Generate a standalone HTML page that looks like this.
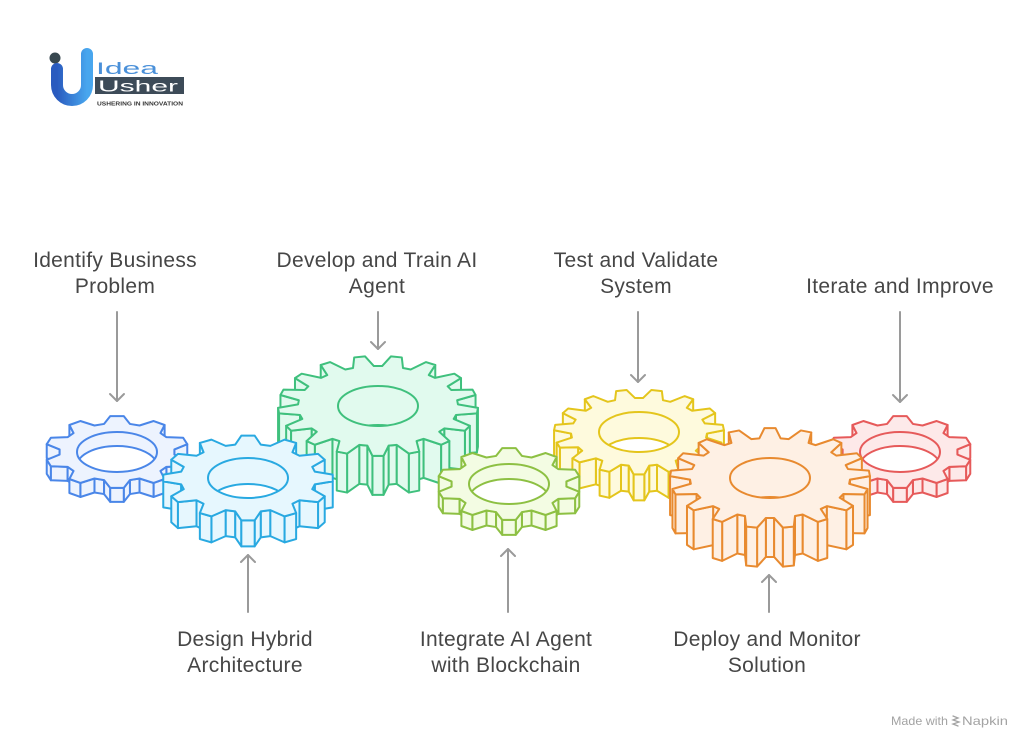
<!DOCTYPE html>
<html>
<head>
<meta charset="utf-8">
<style>
  html, body { margin:0; padding:0; background:#ffffff; }
  body { width:1024px; height:741px; overflow:hidden; }
  svg { display:block; }
  .lbl { font-family:"Liberation Sans", Arial, sans-serif; font-size:21px; fill:#464646; letter-spacing:0.3px; }
</style>
</head>
<body>
<svg id="root" width="1024" height="741" viewBox="0 0 1024 741" xmlns="http://www.w3.org/2000/svg">
  <defs>
    <linearGradient id="ug" x1="0" y1="0" x2="1" y2="0">
      <stop offset="0" stop-color="#2a5bbf"/>
      <stop offset="1" stop-color="#48a6ee"/>
    </linearGradient>
  </defs>
  <rect width="1024" height="741" fill="#ffffff"/>

  <!-- Logo -->
  <g>
    <circle cx="55" cy="58" r="5.5" fill="#37474f"/>
    <path d="M57,69 V85 A15,15 0 0 0 87,85 V54" fill="none" stroke="url(#ug)" stroke-width="12" stroke-linecap="round"/>
    <text x="96" y="74" font-family="Liberation Sans, Arial, sans-serif" font-size="17" fill="#4a90d9" textLength="62" lengthAdjust="spacingAndGlyphs">Idea</text>
    <rect x="95" y="77" width="89" height="17" fill="#3d4b58"/>
    <text x="98" y="91.5" font-family="Liberation Sans, Arial, sans-serif" font-size="16" fill="#ffffff" textLength="80" lengthAdjust="spacingAndGlyphs">Usher</text>
    <text x="97" y="105.5" font-family="Liberation Sans, Arial, sans-serif" font-size="5.6" font-weight="bold" fill="#333333" textLength="86" lengthAdjust="spacingAndGlyphs">USHERING IN INNOVATION</text>
  </g>

  <!-- Gears -->
  <g id="gears"></g>

  <!-- Arrows -->
  <g fill="none" stroke="#9a9a9a" stroke-width="2" stroke-linecap="round" stroke-linejoin="round">
    <line x1="117" y1="312" x2="117" y2="401"/><polyline points="110,394 117,401 124,394"/>
    <line x1="378" y1="312" x2="378" y2="349"/><polyline points="371,342 378,349 385,342"/>
    <line x1="638" y1="312" x2="638" y2="382"/><polyline points="631,375 638,382 645,375"/>
    <line x1="900" y1="312" x2="900" y2="402"/><polyline points="893,395 900,402 907,395"/>
    <line x1="248" y1="612" x2="248" y2="555"/><polyline points="241,562 248,555 255,562"/>
    <line x1="508" y1="612" x2="508" y2="549"/><polyline points="501,556 508,549 515,556"/>
    <line x1="769" y1="612" x2="769" y2="575"/><polyline points="762,582 769,575 776,582"/>
  </g>

  <!-- Labels -->
  <g class="lbl" text-anchor="middle">
    <text class="lbl" x="115" y="267">Identify Business</text>
    <text class="lbl" x="115" y="293">Problem</text>
    <text class="lbl" x="377" y="267">Develop and Train AI</text>
    <text class="lbl" x="377" y="293">Agent</text>
    <text class="lbl" x="636" y="267">Test and Validate</text>
    <text class="lbl" x="636" y="293">System</text>
    <text class="lbl" x="900" y="293">Iterate and Improve</text>
    <text class="lbl" x="245" y="646">Design Hybrid</text>
    <text class="lbl" x="245" y="672">Architecture</text>
    <text class="lbl" x="506" y="646">Integrate AI Agent</text>
    <text class="lbl" x="506" y="672">with Blockchain</text>
    <text class="lbl" x="767" y="646">Deploy and Monitor</text>
    <text class="lbl" x="767" y="672">Solution</text>
  </g>

  <!-- Made with Napkin -->
  <g font-family="Liberation Sans, Arial, sans-serif" font-size="12" fill="#a3a3a3">
    <text x="891" y="725" textLength="57" lengthAdjust="spacingAndGlyphs">Made with</text>
    <g fill="none" stroke="#a3a3a3" stroke-width="1.3" stroke-linecap="round">
      <path d="M953,716 L958,718 L953,720 L959,722 L953,724 L958,726"/>
    </g>
    <text x="962" y="725" textLength="46" lengthAdjust="spacingAndGlyphs">Napkin</text>
  </g>
</svg>

<script>
(function(){
  var gears = [
    // cx, cy, R, N, thick, stroke, fill, toothAtTop
    [378,406,100,17,39,'#3fc07d','#e1faee',false],
    [639,432,85,15,26,'#e4c51c','#fefadd',false],
    [117,452,72,10,14,'#4a86e8','#edf3fe',true],
    [900,452,72,10,14,'#e65a5a','#fde9e9',true],
    [509,484,72,10,15,'#8dc043','#f3fce3',true],
    [248,478,85,12,26,'#29a9e1','#e6f7fe',true],
    [770,478,100,17,39,'#e88a2f','#fef0e4',true]
  ];
  var out = '';
  var clips = '';
  gears.forEach(function(g, gi){
    var cx=g[0], cy=g[1], R=g[2], N=g[3], t=g[4], st=g[5], fl=g[6], top=g[7];
    var p = 2*Math.PI/N;
    var Rr = R*0.8;
    var ph = top ? -Math.PI/2 : -Math.PI/2 + p/2;
    function P(r,a){ return [cx + r*Math.cos(a), cy + 0.5*r*Math.sin(a)]; }
    var pts = [];
    for (var k=0;k<N;k++){
      var a = ph + k*p;
      pts.push(P(Rr, a-0.36*p), P(R, a-0.15*p), P(R, a+0.15*p), P(Rr, a+0.36*p));
    }
    var n = pts.length;
    var faces = [];
    for (var i=0;i<n;i++){
      var A = pts[i], B = pts[(i+1)%n];
      if (B[0] < A[0] - 0.01){
        faces.push({d:(A[1]+B[1])/2, path:'M'+A[0].toFixed(2)+','+A[1].toFixed(2)+
          ' L'+B[0].toFixed(2)+','+B[1].toFixed(2)+
          ' L'+B[0].toFixed(2)+','+(B[1]+t).toFixed(2)+
          ' L'+A[0].toFixed(2)+','+(A[1]+t).toFixed(2)+' Z'});
      }
    }
    faces.sort(function(x,y){ return x.d - y.d; });
    var s = '<g stroke="'+st+'" stroke-width="2" stroke-linejoin="round">';
    faces.forEach(function(f){ s += '<path d="'+f.path+'" fill="'+fl+'"/>'; });
    var d = 'M' + pts.map(function(q){ return q[0].toFixed(2)+','+q[1].toFixed(2); }).join(' L') + ' Z';
    s += '<path d="'+d+'" fill="'+fl+'"/>';
    var cid = 'hc'+gi;
    clips += '<clipPath id="'+cid+'"><ellipse cx="'+cx+'" cy="'+cy+'" rx="40" ry="20"/></clipPath>';
    s += '<ellipse cx="'+cx+'" cy="'+(cy+t)+'" rx="40" ry="20" fill="#ffffff" clip-path="url(#'+cid+')"/>';
    s += '<ellipse cx="'+cx+'" cy="'+cy+'" rx="40" ry="20" fill="none"/>';
    s += '</g>';
    out += s;
  });
  var grp = document.getElementById('gears');
  grp.innerHTML = '<defs>' + clips + '</defs>' + out;
})();
</script>
</body>
</html>
